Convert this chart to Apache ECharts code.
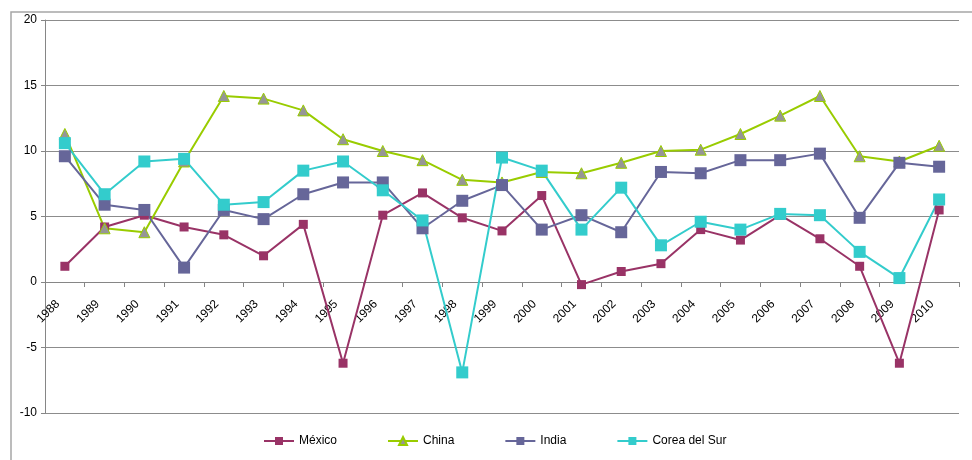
<!DOCTYPE html>
<html>
<head>
<meta charset="utf-8">
<script src="https://cdn.jsdelivr.net/npm/echarts@6/dist/echarts.min.js"></script>
<style>
html,body{margin:0;padding:0;background:#fff;}
#chart{width:972px;height:460px;}
</style>
</head>
<body>
<div id="chart"></div>
<script>
var years = ['1988','1989','1990','1991','1992','1993','1994','1995','1996','1997','1998','1999','2000','2001','2002','2003','2004','2005','2006','2007','2008','2009','2010'];
var mexico = [1.2, 4.2, 5.1, 4.2, 3.6, 2.0, 4.4, -6.2, 5.1, 6.8, 4.9, 3.9, 6.6, -0.2, 0.8, 1.4, 4.0, 3.2, 5.1, 3.3, 1.2, -6.2, 5.5];
var china = [11.3, 4.1, 3.8, 9.2, 14.2, 14.0, 13.1, 10.9, 10.0, 9.3, 7.8, 7.6, 8.4, 8.3, 9.1, 10.0, 10.1, 11.3, 12.7, 14.2, 9.6, 9.2, 10.4];
var india = [9.6, 5.9, 5.5, 1.1, 5.5, 4.8, 6.7, 7.6, 7.6, 4.1, 6.2, 7.4, 4.0, 5.1, 3.8, 8.4, 8.3, 9.3, 9.3, 9.8, 4.9, 9.1, 8.8];
var corea = [10.6, 6.7, 9.2, 9.4, 5.9, 6.1, 8.5, 9.2, 7.0, 4.7, -6.9, 9.5, 8.5, 4.0, 7.2, 2.8, 4.6, 4.0, 5.2, 5.1, 2.3, 0.3, 6.3];
var seriesNames = ['México', 'China', 'India', 'Corea del Sur'];
var yTicks = {min: -10, max: 20, interval: 5};

var chart = echarts.init(document.getElementById('chart'), null, {renderer: 'canvas'});
var font = 'Liberation Sans, Arial, sans-serif';
var gridTop = 20, gridBottom = 47, H = 460;
var plotH = H - gridTop - gridBottom;
// place the category axis where the value axis crosses zero
var zeroOffset = -plotH * (0 - yTicks.min) / (yTicks.max - yTicks.min);
function sq(name, data, color, size) {
  return {
    name: name, type: 'line', data: data,
    symbol: 'rect', symbolSize: size, showAllSymbol: true,
    lineStyle: {color: color, width: 2},
    itemStyle: {color: color},
    emphasis: {disabled: true}
  };
}
chart.setOption({
  animation: false,
  backgroundColor: '#ffffff',
  textStyle: {fontFamily: font},
  graphic: [{
    type: 'rect', silent: true, z: -1,
    shape: {x: 11, y: 12, width: 975, height: 460},
    style: {fill: 'none', stroke: '#a6a6a6', lineWidth: 1.5}
  }],
  grid: {left: 45, right: 13, top: gridTop, bottom: gridBottom, containLabel: false},
  legend: {
    data: seriesNames,
    left: 263, top: 435, padding: 0,
    itemWidth: 30, itemHeight: 10, itemGap: 50,
    textStyle: {fontFamily: font, fontSize: 12, color: '#000'}
  },
  xAxis: {
    type: 'category', data: years, boundaryGap: true,
    position: 'bottom', offset: zeroOffset,
    axisLine: {onZero: false, lineStyle: {color: '#868686', width: 1}},
    axisTick: {show: true, length: 5, lineStyle: {color: '#868686'}},
    axisLabel: {rotate: 45, margin: 13, padding: [0, 10, 0, 0], fontSize: 12, color: '#000', fontFamily: font, interval: 0},
    splitLine: {show: false}
  },
  yAxis: {
    type: 'value', min: yTicks.min, max: yTicks.max, interval: yTicks.interval,
    axisLine: {show: true, lineStyle: {color: '#868686', width: 1}},
    axisTick: {show: true, length: 4, lineStyle: {color: '#868686'}},
    axisLabel: {margin: 8, fontSize: 12, color: '#000', fontFamily: font},
    splitLine: {show: true, lineStyle: {color: '#8c8c8c', width: 1}}
  },
  series: [
    sq(seriesNames[0], mexico, '#993366', 9),
    {
      name: seriesNames[1], type: 'line', data: china,
      symbol: 'triangle', symbolSize: 11, showAllSymbol: true,
      lineStyle: {color: '#99cc00', width: 2},
      itemStyle: {color: '#969696', borderColor: '#99cc00', borderWidth: 1},
      emphasis: {disabled: true}
    },
    sq(seriesNames[2], india, '#666699', 12),
    sq(seriesNames[3], corea, '#33cccc', 12)
  ]
});
</script>
</body>
</html>
